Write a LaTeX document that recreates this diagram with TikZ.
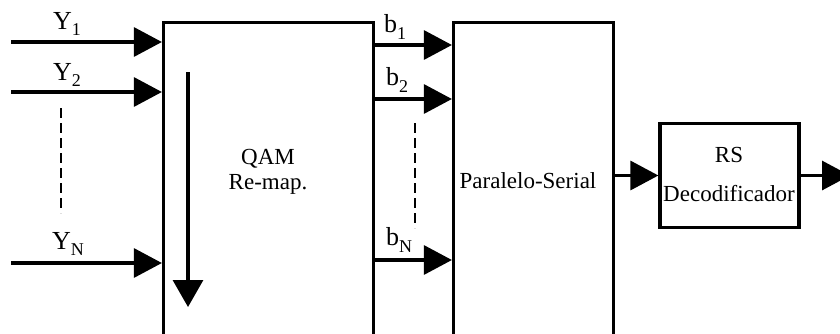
\documentclass[tikz,border=0pt]{standalone}
\usepackage{fontspec}
\setmainfont{Liberation Serif}
\usetikzlibrary{arrows.meta}
\newcommand{\lowsub}[1]{\raisebox{-0.55ex}{\small #1}}
\begin{document}
\begin{tikzpicture}[
  x=0.5pt,y=-0.5pt,
  block/.style={draw=black, line width=1.6pt, inner sep=0pt},
  txt/.style={align=center, inner sep=0pt, font=\fontsize{11.5}{12.5}\selectfont},
  sig/.style={-{Triangle[length=14pt,width=14.5pt]}, line width=1.6pt},
  bigsig/.style={-{Triangle[length=13.5pt,width=15pt]}, line width=1.6pt},
  dots/.style={line width=1.2pt, dash pattern=on 5pt off 2.5pt},
  label/.style={inner sep=0pt, font=\fontsize{13}{14}\selectfont}
]
  \useasboundingbox (0,0) rectangle (840,333);
  \clip (0,0) rectangle (840,333);

  \node[block, minimum width=105pt, minimum height=163.75pt] (qam) at (268.5,186.25) {};
  \node[txt] (qamtxt) at (268,172) {QAM\\Re-map.};
  \node[block, minimum width=80pt, minimum height=163.75pt] (ps) at (533.5,186.25) {};
  \node[txt] (pstxt) at (528,181) {Paralelo-Serial};
  \node[block, minimum width=69.5pt, minimum height=52pt] (rs) at (729.5,175.5) {};
  \node[txt, font=\fontsize{11.5}{19.5}\selectfont] (rstxt) at (729,174.5) {RS\\Decodificador};

  \coordinate (y1) at (11,42);
  \coordinate (y2) at (11,92);
  \coordinate (yn) at (11,263);
  \draw[sig] (y1) -- (y1 -| qam.west);
  \draw[sig] (y2) -- (y2 -| qam.west);
  \draw[sig] (yn) -- (yn -| qam.west);
  \node[label] (ly1) at (67,24) {Y\lowsub{1}};
  \node[label] (ly2) at (67,75) {Y\lowsub{2}};
  \node[label] (lyn) at (68,244) {Y\lowsub{N}};
  \coordinate (ydtop) at (61,108);
  \coordinate (ydbot) at (61,213);
  \draw[dots] (ydtop) -- (ydbot);

  \coordinate (scantop) at (188,72);
  \coordinate (scanbot) at (188,307);
  \draw[bigsig] (scantop) -- (scanbot);

  \coordinate (b1) at (0,45);
  \coordinate (b2) at (0,99);
  \coordinate (bn) at (0,260);
  \draw[sig] (b1 -| qam.east) -- (b1 -| ps.west);
  \draw[sig] (b2 -| qam.east) -- (b2 -| ps.west);
  \draw[sig] (bn -| qam.east) -- (bn -| ps.west);
  \node[label] (lb1) at (395,27) {b\lowsub{1}};
  \node[label] (lb2) at (397,80) {b\lowsub{2}};
  \node[label] (lbn) at (399,240) {b\lowsub{N}};
  \coordinate (bdtop) at (415,123);
  \coordinate (bdbot) at (415,228);
  \draw[dots] (bdtop) -- (bdbot);

  \draw[sig] (rs.west -| ps.east) -- (rs.west);
  \coordinate (out) at (850,175.5);
  \draw[sig] (rs.east) -- (out);
\end{tikzpicture}
\end{document}
